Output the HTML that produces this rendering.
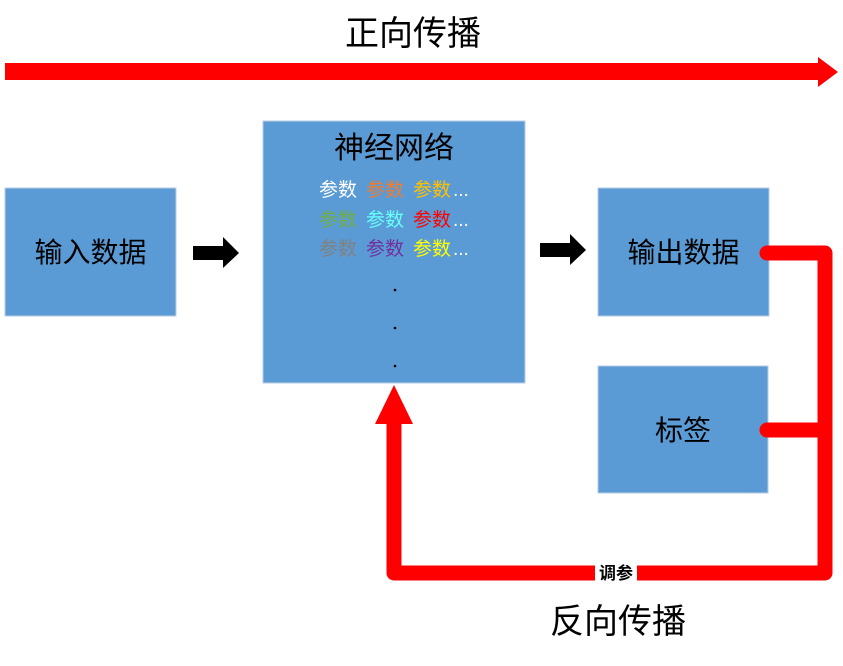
<!DOCTYPE html>
<html><head><meta charset="utf-8"><style>
body{margin:0;background:#fff;}
svg text{font-family:"Liberation Sans","Noto Sans CJK SC",sans-serif;}
</style></head><body>
<svg width="843" height="661" viewBox="0 0 843 661" xmlns="http://www.w3.org/2000/svg">
<text x="413" y="45" font-size="34" text-anchor="middle" fill="#000">正向传播</text>
<polygon points="5,63 818,63 818,57 838,72 818,87 818,80 5,80" fill="#f00"/>

<rect x="5" y="188" width="171" height="128" fill="#5B9BD5" stroke="#b8cde4" stroke-width="1"/>
<text x="90.5" y="262" font-size="28" text-anchor="middle">输入数据</text>

<polygon points="193,246 223,246 223,237 239,253 223,268 223,260 193,260" fill="#000"/>

<rect x="263" y="121" width="262" height="262" fill="#5B9BD5" stroke="#b8cde4" stroke-width="1"/>
<text x="394" y="158" font-size="30" text-anchor="middle">神经网络</text>
<g font-size="19">
<text x="319" y="196" fill="#fff">参数</text><text x="366" y="196" fill="#ED7D31">参数</text><text x="413" y="196" fill="#FFC000">参数</text><text x="453" y="196" fill="#fff">...</text>
<text x="319" y="226" fill="#70AD47">参数</text><text x="366" y="226" fill="#66FFFF">参数</text><text x="413" y="226" fill="#FF0000">参数</text><text x="453" y="226" fill="#fff">...</text>
<text x="319" y="255" fill="#808080">参数</text><text x="366" y="255" fill="#7030A0">参数</text><text x="413" y="255" fill="#FFFF00">参数</text><text x="453" y="255" fill="#fff">...</text>
</g>
<circle cx="395" cy="290" r="1.3" fill="#000"/>
<circle cx="395" cy="328" r="1.3" fill="#000"/>
<circle cx="395" cy="366" r="1.3" fill="#000"/>

<polygon points="540,243 570,243 570,234 586,250 570,265 570,257 540,257" fill="#000"/>

<rect x="598" y="188" width="171" height="128" fill="#5B9BD5" stroke="#b8cde4" stroke-width="1"/>
<text x="683.5" y="262" font-size="28" text-anchor="middle">输出数据</text>

<rect x="598" y="366" width="170" height="127" fill="#5B9BD5" stroke="#b8cde4" stroke-width="1"/>
<text x="683" y="440" font-size="28" text-anchor="middle">标签</text>

<g fill="none" stroke="#f00" stroke-width="15" stroke-linejoin="round" stroke-linecap="round">
<path d="M767,253 L825,253 L825,573 L394,573 L394,420"/>
<path d="M767,430 L825,430"/>
</g>
<polygon points="375,424 394,385 413,424" fill="#f00"/>
<rect x="595" y="563" width="42" height="20" fill="#fff"/>
<text x="616" y="579" font-size="17" font-weight="bold" text-anchor="middle">调参</text>

<text x="618" y="633" font-size="34" text-anchor="middle" fill="#000">反向传播</text>
</svg>
</body></html>
